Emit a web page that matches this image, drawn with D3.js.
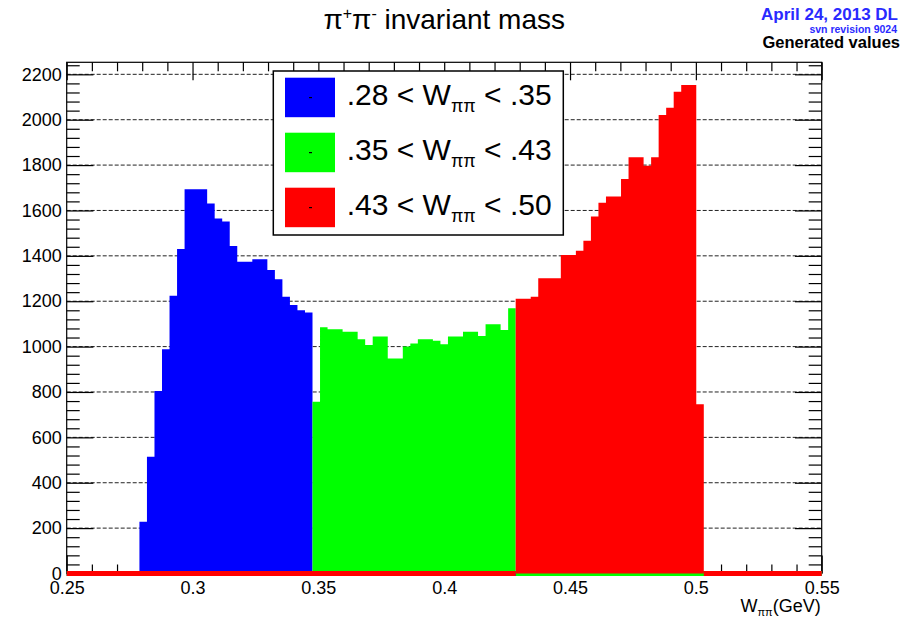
<!DOCTYPE html>
<html>
<head>
<meta charset="utf-8">
<script src="https://cdn.jsdelivr.net/npm/d3@7"></script>
<style>
  body { margin: 0; background: #fff; }
  svg { display: block; }
  text { font-family: "Liberation Sans", Arial, Helvetica, sans-serif; }
</style>
</head>
<body>
<svg id="chart" width="913" height="619"></svg>
<script>
// Histogram binning (GeV)
const binStart = 0.2789;
const binWidth = 0.00299;

// Counts per bin for the three W(pi pi) slices
const blueCounts = [228, 515, 804, 988, 1224, 1430, 1693, 1693, 1693, 1631, 1565, 1551,
  1443, 1374, 1374, 1385, 1385, 1338, 1297, 1220, 1183, 1160, 1150];
const greenCounts = [757, 1085, 1076, 1076, 1066, 1066, 1032, 1007, 1044, 1044, 948, 948,
  1000, 1014, 1032, 1032, 1026, 1010, 1044, 1044, 1066, 1066, 1047, 1098, 1098, 1073, 1169];
const redCounts = [1211, 1211, 1220, 1301, 1301, 1301, 1404, 1404, 1423, 1467, 1573, 1634,
  1661, 1661, 1739, 1834, 1834, 1797, 1834, 2021, 2053, 2123, 2153, 2153, 746];

const seriesNames = ["blue", "green", "red"];
const seriesColors = ["#0000ff", "#00ff00", "#ff0000"];
const legendLow = [".28", ".35", ".43"];
const legendHigh = [".35", ".43", ".50"];

const xMajorTicks = [0.25, 0.3, 0.35, 0.4, 0.45, 0.5, 0.55];
const xTickLabels = ["0.25", "0.3", "0.35", "0.4", "0.45", "0.5", "0.55"];
const yMajorTicks = [0, 200, 400, 600, 800, 1000, 1200, 1400, 1600, 1800, 2000, 2200];
const xDomain = [0.25, 0.55];
const yDomain = [0, 2253];

const frame = { left: 66.7, right: 821.7, top: 62.3, bottom: 573.5 };

const svg = d3.select("#chart");
const x = d3.scaleLinear().domain(xDomain).range([frame.left, frame.right]);
const y = d3.scaleLinear().domain(yDomain).range([frame.bottom, frame.top]);

const xMinorTicks = d3.range(26, 55).map(k => k / 100).filter(v => !xMajorTicks.some(m => Math.abs(m - v) < 1e-9));
const yMinorTicks = d3.range(40, 2253, 40).filter(v => v % 200 !== 0);

// Horizontal dotted grid
svg.append("g").selectAll("line").data(yMajorTicks.filter(v => v > 0)).join("line")
  .attr("x1", frame.left).attr("x2", frame.right)
  .attr("y1", d => y(d)).attr("y2", d => y(d))
  .attr("stroke", "#222").attr("stroke-width", 1).attr("stroke-dasharray", "4,2");

// Frame
svg.append("rect")
  .attr("x", frame.left).attr("y", frame.top)
  .attr("width", frame.right - frame.left).attr("height", frame.bottom - frame.top)
  .attr("fill", "none").attr("stroke", "#000").attr("stroke-width", 1.2);

function tickAxis(axis, transform) {
  const g = svg.append("g").attr("transform", transform).call(axis);
  g.select(".domain").remove();
  g.selectAll("line").attr("stroke", "#000").attr("stroke-width", 1.2);
  return g;
}

// Left axis: labels plus major/minor ticks pointing into the frame
const leftMajor = tickAxis(d3.axisLeft(y).tickValues(yMajorTicks).tickSizeInner(-26.7).tickSizeOuter(0)
  .tickPadding(5).tickFormat(d3.format("d")), `translate(${frame.left},0)`);
leftMajor.selectAll("text").attr("font-size", 18).attr("fill", "#000")
  .attr("font-family", "'Liberation Sans', Arial, sans-serif");
tickAxis(d3.axisLeft(y).tickValues(yMinorTicks).tickSizeInner(-13).tickSizeOuter(0).tickFormat(""),
  `translate(${frame.left},0)`);
// Right axis ticks
tickAxis(d3.axisRight(y).tickValues(yMajorTicks).tickSizeInner(-26.7).tickSizeOuter(0).tickFormat(""),
  `translate(${frame.right},0)`);
tickAxis(d3.axisRight(y).tickValues(yMinorTicks).tickSizeInner(-13).tickSizeOuter(0).tickFormat(""),
  `translate(${frame.right},0)`);

// Bottom axis
const bottomMajor = tickAxis(d3.axisBottom(x).tickValues(xMajorTicks).tickSizeInner(-18).tickSizeOuter(0)
  .tickPadding(8).tickFormat((d, i) => xTickLabels[i]), `translate(0,${frame.bottom})`);
bottomMajor.selectAll("text").attr("font-size", 18).attr("fill", "#000")
  .attr("font-family", "'Liberation Sans', Arial, sans-serif");
tickAxis(d3.axisBottom(x).tickValues(xMinorTicks).tickSizeInner(-9).tickSizeOuter(0).tickFormat(""),
  `translate(0,${frame.bottom})`);
// Top axis ticks
tickAxis(d3.axisTop(x).tickValues(xMajorTicks).tickSizeInner(-18).tickSizeOuter(0).tickFormat(""),
  `translate(0,${frame.top})`);
tickAxis(d3.axisTop(x).tickValues(xMinorTicks).tickSizeInner(-9).tickSizeOuter(0).tickFormat(""),
  `translate(0,${frame.top})`);

// Histograms, drawn in order; each one's empty bins show as a thick line along zero
const allSeries = [blueCounts, greenCounts, redCounts];
let offset = 0;
const area = d3.area().curve(d3.curveStepAfter)
  .x(d => x(d.x)).y0(y(0)).y1(d => y(d.v));
allSeries.forEach((counts, s) => {
  const lo = binStart + offset * binWidth;
  const hi = lo + counts.length * binWidth;
  const pts = counts.map((v, i) => ({ x: lo + i * binWidth, v }));
  pts.push({ x: hi, v: counts[counts.length - 1] });
  const g = svg.append("g").attr("class", seriesNames[s]);
  g.append("path").datum(pts).attr("d", area).attr("fill", seriesColors[s]);
  g.selectAll("line").data([[xDomain[0], lo], [hi, xDomain[1]]]).join("line")
    .attr("x1", d => x(d[0])).attr("x2", d => x(d[1]))
    .attr("y1", y(0)).attr("y2", y(0))
    .attr("stroke", seriesColors[s]).attr("stroke-width", 5);
  offset += counts.length;
});

// Legend
const legend = svg.append("g");
legend.append("rect").attr("x", 273.3).attr("y", 71).attr("width", 290).attr("height", 164)
  .attr("fill", "#fff").attr("stroke", "#000").attr("stroke-width", 1.5);
seriesColors.forEach((c, i) => {
  const cy = 97.5 + i * 55;
  legend.append("rect").attr("x", 285).attr("y", cy - 19.8).attr("width", 50).attr("height", 39.5)
    .attr("fill", c);
  legend.append("rect").attr("x", 309).attr("y", cy - 0.5).attr("width", 3).attr("height", 1.2)
    .attr("fill", "#000");
  const t = legend.append("text").attr("x", 346.7).attr("y", cy + 7.5).attr("font-size", 30).attr("fill", "#000");
  t.append("tspan").text(`${legendLow[i]} < W`);
  t.append("tspan").attr("font-size", 18).attr("dy", 6.7).text("ππ");
  t.append("tspan").attr("dy", -6.7).text(` < ${legendHigh[i]}`);
});

// Title
const title = svg.append("text").attr("x", (frame.left + frame.right) / 2).attr("y", 29)
  .attr("text-anchor", "middle").attr("font-size", 28).attr("fill", "#000");
title.append("tspan").text("π");
title.append("tspan").attr("font-size", 16).attr("dy", -10).text("+");
title.append("tspan").attr("dy", 10).text("π");
title.append("tspan").attr("font-size", 16).attr("dy", -10).text("-");
title.append("tspan").attr("dy", 10).text(" invariant mass");

// Stamp in the corner
svg.append("text").attr("x", 898).attr("y", 19.5).attr("text-anchor", "end")
  .attr("font-size", 17).attr("font-weight", "bold").attr("fill", "#2a2aff").text("April 24, 2013 DL");
svg.append("text").attr("x", 897).attr("y", 32.5).attr("text-anchor", "end")
  .attr("font-size", 10.5).attr("font-weight", "bold").attr("fill", "#2a2aff").text("svn revision 9024");
svg.append("text").attr("x", 900).attr("y", 47.5).attr("text-anchor", "end")
  .attr("font-size", 16.5).attr("font-weight", "bold").attr("fill", "#000").text("Generated values");

// X axis title
const xt = svg.append("text").attr("x", frame.right - 1).attr("y", 612).attr("text-anchor", "end")
  .attr("font-size", 18).attr("fill", "#000");
xt.append("tspan").text("W");
xt.append("tspan").attr("font-size", 11).attr("dy", 4).text("ππ");
xt.append("tspan").attr("dy", -4).text("(GeV)");
</script>
</body>
</html>
